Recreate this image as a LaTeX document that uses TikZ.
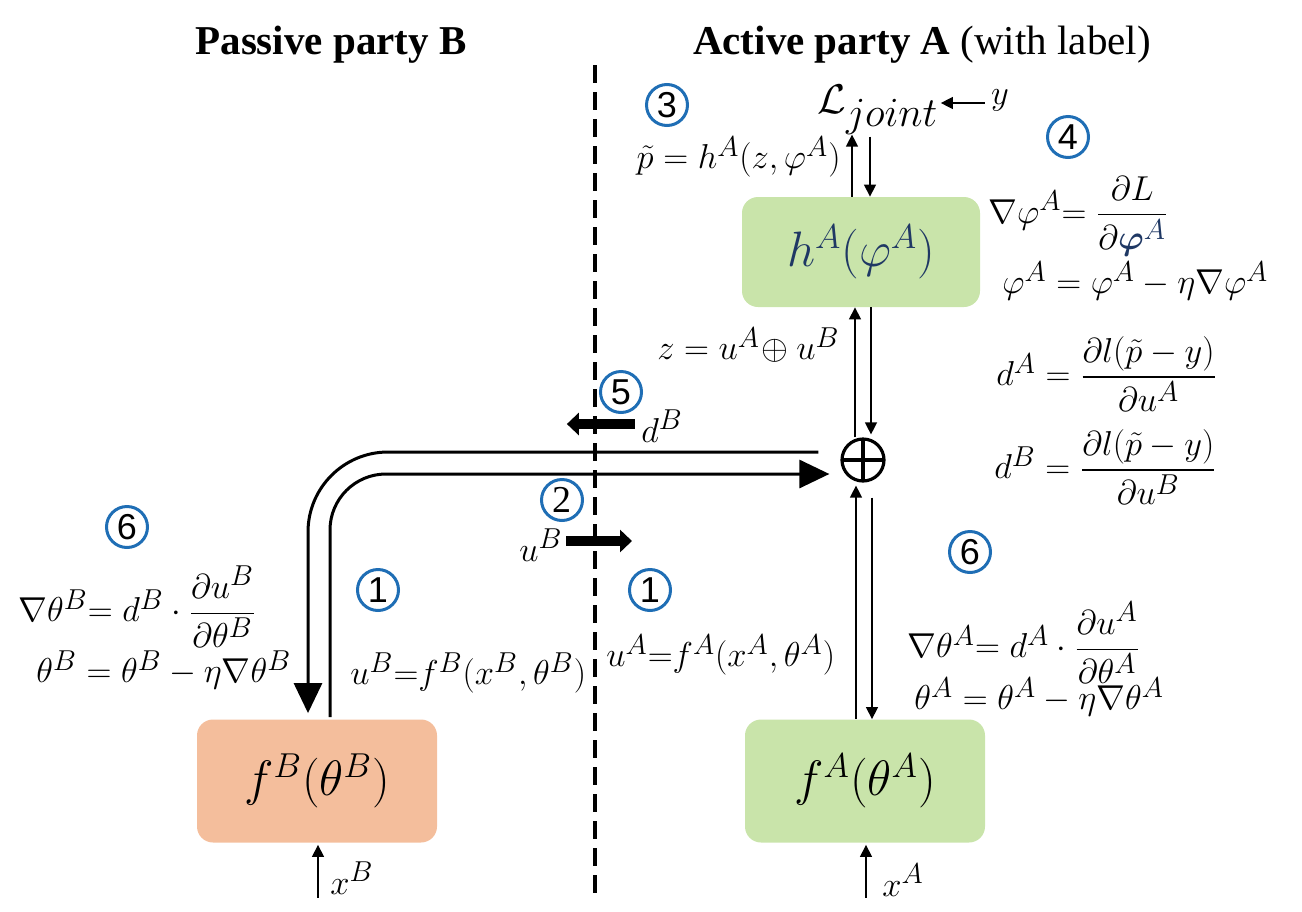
\documentclass[tikz,border=0pt]{standalone}
\usepackage{amsmath}
\usepackage[no-math]{fontspec}
\setmainfont{Liberation Serif}
\newfontfamily\numfont{Liberation Sans}
\usetikzlibrary{arrows.meta,calc}
\definecolor{boxgreen}{RGB}{201,228,170}
\definecolor{boxorange}{RGB}{244,190,156}
\definecolor{numblue}{RGB}{31,110,181}
\definecolor{navy}{RGB}{31,56,100}
\begin{document}
\begin{tikzpicture}[x=0.5pt,y=-0.5pt,
  font=\fontsize{19}{23}\selectfont,
  box/.style={rounded corners=8pt, minimum width=120pt, minimum height=61.5pt, inner sep=0pt, font=\fontsize{25}{30}\selectfont},
  num/.style={circle, draw=numblue, line width=1.5pt, minimum size=20.5pt, inner sep=0pt, font=\numfont\fontsize{18}{20}\selectfont},
  lab/.style={inner sep=1pt},
  thinarr/.style={line width=0.65pt, -{Triangle[length=6pt,width=6pt]}},
  bigarr/.style={line width=1.5pt, -{Triangle[length=15pt,width=14pt]}},
  fatarr/.style={line width=5pt, -{Triangle[length=6pt,width=11pt]}},
]
\useasboundingbox (0,0) rectangle (1302,911);

% titles
\node[lab, font=\bfseries\fontsize{20.5}{24}\selectfont] (tB) at (331,45) {Passive party B};
\node[lab, font=\fontsize{20.5}{24}\selectfont] (tA) at (922,45) {\textbf{Active party A} (with label)};

% dashed divider
\coordinate (dtop) at (595,65);
\coordinate (dbot) at (595,900);
\draw[line width=1.7pt, dash pattern=on 9pt off 4.5pt] (dtop) -- (dbot);

% boxes
\node[box, fill=boxgreen, text=navy, minimum width=119pt, minimum height=55pt] (hA) at (861,252) {$h^A(\varphi^A)$};
\node[box, fill=boxgreen] (fA) at (865,781) {$f^A(\theta^A)$};
\node[box, fill=boxorange] (fB) at (317,781) {$f^B(\theta^B)$};

% oplus
\node[circle, draw, line width=1.6pt, minimum size=21pt, inner sep=0pt,
  path picture={\draw[line width=1.6pt] (path picture bounding box.north) -- (path picture bounding box.south)
   (path picture bounding box.west) -- (path picture bounding box.east);}] (op) at (863,460) {};

% loss
\node[lab, anchor=west, font=\fontsize{21}{25}\selectfont] (L) at (815,110) {$\mathcal{L}_{\textstyle joint}$};
\node[lab] (ylab) at (1000,100) {$y$};
\draw[thinarr] ($(ylab.west)+(-4,3)$) -- ($(L.east)+(0,-7)$);

\coordinate (h1) at ($(hA.north)+(-9,0)$);
\coordinate (h2) at ($(hA.north)+(9,0)$);
\draw[thinarr] (h1) -- ++(0,-62);
\draw[thinarr] ($(h2)+(0,-60)$) -- (h2);

% hA <-> op
\coordinate (o1) at ($(op.north)+(-8,0)$);
\coordinate (o2) at ($(op.north)+(8,-3)$);
\draw[thinarr] (o1) -- (o1 |- hA.south);
\draw[thinarr] (o2 |- hA.south) -- (o2);

% op <-> fA
\coordinate (o3) at ($(op.south)+(-7,3)$);
\coordinate (o4) at ($(op.south)+(9,15)$);
\draw[thinarr] (o3 |- fA.north) -- (o3);
\draw[thinarr] (o4) -- (o4 |- fA.north);

% big curved arrows
\draw[bigarr, rounded corners=40pt] ($(op.west)+(-22,-8)$) -| ($(fB.north)+(-9,-6)$);
\draw[bigarr, rounded corners=28pt] ($(fB.north)+(13,-2)$) |- ($(op.west)+(-11,14)$);

% fat arrows
\node[lab] (dB) at (662,426) {$d^B$};
\draw[fatarr] ($(dB.west)+(-4,-2)$) -- ++(-68,0);
\node[lab, anchor=east] (uB) at (565,545) {$u^B$};
\draw[fatarr] ($(uB.east)+(1,-4)$) -- ++(66,0);

% inputs
\node[lab, anchor=west] (xB) at (328,878) {$x^B$};
\node[lab, anchor=west] (xA) at (880,880) {$x^A$};
\draw[thinarr] ($(fB.south)+(1,55)$) -- ($(fB.south)+(1,2)$);
\draw[thinarr] ($(fA.south)+(1,55)$) -- ($(fA.south)+(1,2)$);

% numbered circles
\node[num] (n3) at (667,105) {3};
\node[num] (n4) at (1068,137) {4};
\node[num] (n5) at (621,392) {5};
\node[num, font=\rmfamily\fontsize{19}{20}\selectfont] (n2) at (562,500) {2};
\node[num] (n6a) at (127,527) {6};
\node[num] (n1a) at (378,590) {1};
\node[num] (n1b) at (650,590) {1};
\node[num] (n6b) at (970,552) {6};

% equations
\node[lab, anchor=east] (eqp) at (843,157) {$\tilde p = h^A(z,\varphi^A)$};
\node[lab, anchor=west] (eqgphi) at (986,216) {$\nabla\varphi^A{=}\;\dfrac{\partial L}{\partial\textcolor{navy}{\boldsymbol{\varphi}^A}}$};
\node[lab, anchor=west] (eqphi) at (1000,281) {$\varphi^A = \varphi^A - \eta\nabla\varphi^A$};
\node[lab, anchor=east] (eqz) at (842,345) {$z = u^A\!\oplus u^B$};
\node[lab, anchor=west] (eqdA) at (994,374) {$d^A = \dfrac{\partial l(\tilde p - y)}{\partial u^A}$};
\node[lab, anchor=west] (eqdB) at (992,467) {$d^B = \dfrac{\partial l(\tilde p - y)}{\partial u^B}$};
\node[lab, anchor=west] (eqgtB) at (16,607) {$\nabla\theta^B{=}\; d^B\cdot\dfrac{\partial u^B}{\partial\theta^B}$};
\node[lab, anchor=west] (eqtB) at (34,670) {$\theta^B = \theta^B - \eta\nabla\theta^B$};
\node[lab, anchor=west] (equB) at (348,673) {$u^B{=}f^B(x^B,\theta^B)$};
\node[lab, anchor=west] (equA) at (604,655) {$u^A{=}f^A(x^A,\theta^A)$};
\node[lab, anchor=west] (eqgtA) at (905,643) {$\nabla\theta^A{=}\; d^A\cdot\dfrac{\partial u^A}{\partial\theta^A}$};
\node[lab, anchor=west] (eqtA) at (912,697) {$\theta^A = \theta^A - \eta\nabla\theta^A$};
\end{tikzpicture}
\end{document}
